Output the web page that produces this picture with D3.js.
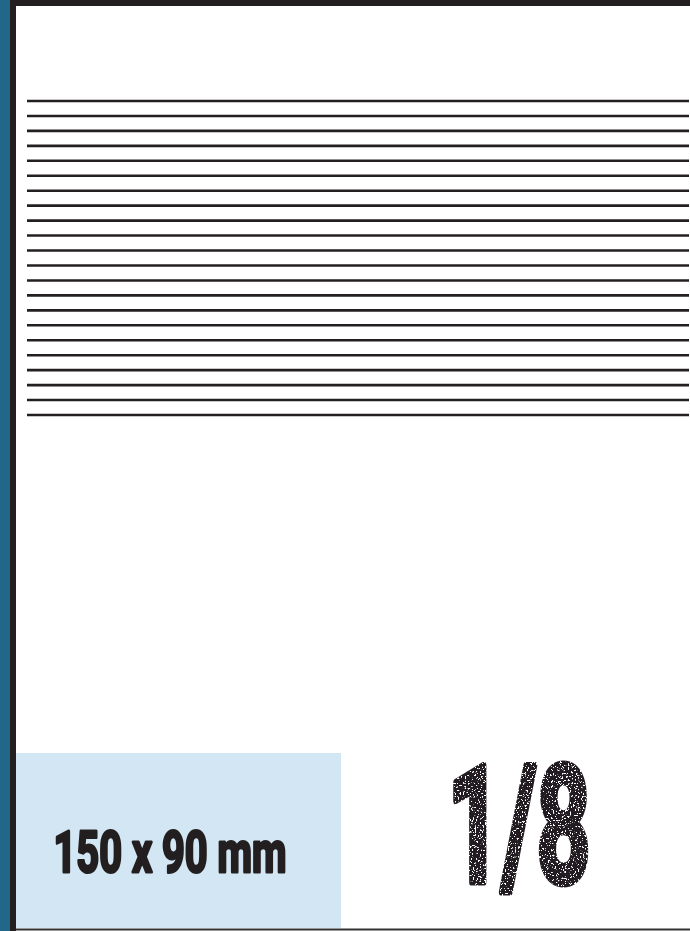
<!DOCTYPE html>
<html>
<head>
<meta charset="utf-8">
<script src="https://cdn.jsdelivr.net/npm/d3@7"></script>
<style>
  body { margin: 0; background: #fff; }
  svg { display: block; }
</style>
</head>
<body>
<svg id="page"></svg>
<script>
// -- data -- //
const ruleLines = d3.range(1, 23);   // 22 writing lines
const sizeLabel = ['150 x 90 mm'];
const fractionLabel = ['1/8'];

const width = 690, height = 931;

const svg = d3.select('#page')
    .attr('width', width)
    .attr('height', height);

// grunge filter for the big fraction
const defs = svg.append('defs');
const grunge = defs.append('filter')
    .attr('id', 'grunge')
    .attr('filterUnits', 'userSpaceOnUse')
    .attr('x', 410).attr('y', 730).attr('width', 230).attr('height', 190);
grunge.append('feTurbulence')
    .attr('type', 'fractalNoise')
    .attr('baseFrequency', '0.6')
    .attr('numOctaves', '3')
    .attr('seed', '11')
    .attr('result', 'noise');
grunge.append('feColorMatrix')
    .attr('in', 'noise')
    .attr('type', 'matrix')
    .attr('values', '0 0 0 0 0  0 0 0 0 0  0 0 0 0 0  0 0 0 -16 10.6')
    .attr('result', 'mask');
grunge.append('feComposite')
    .attr('in', 'SourceGraphic')
    .attr('in2', 'mask')
    .attr('operator', 'in');

// -- frame -- //
svg.append('rect')
    .attr('x', 0).attr('y', 0)
    .attr('width', 10).attr('height', height)
    .style('fill', '#226789');
svg.append('rect')
    .attr('x', 10).attr('y', 0)
    .attr('width', 6).attr('height', height)
    .style('fill', '#231f20');
svg.append('rect')
    .attr('x', 10).attr('y', 0)
    .attr('width', width - 10).attr('height', 6)
    .style('fill', '#231f20');

// -- ruled lines -- //
const yScale = d3.scaleLinear()
    .domain([1, 22])
    .range([101, 415]);

svg.selectAll('.rule')
    .data(ruleLines)
    .enter().append('line')
    .attr('class', 'rule')
    .attr('x1', 27)
    .attr('x2', 689)
    .attr('y1', d => yScale(d))
    .attr('y2', d => yScale(d))
    .style('stroke', '#231f20')
    .style('stroke-width', 2.6);

// -- size box -- //
svg.append('rect')
    .attr('x', 16).attr('y', 753)
    .attr('width', 325).attr('height', 175)
    .style('fill', '#d2e7f3');

svg.selectAll('.size')
    .data(sizeLabel)
    .enter().append('text')
    .attr('class', 'size')
    .attr('x', 53.5)
    .attr('y', 871.5)
    .attr('textLength', 233)
    .attr('lengthAdjust', 'spacingAndGlyphs')
    .style('font-family', 'Roboto, "Liberation Sans", sans-serif')
    .style('font-weight', 700)
    .style('font-size', '58px')
    .style('fill', '#231f20')
    .style('stroke', '#231f20')
    .style('stroke-width', 3)
    .style('stroke-linejoin', 'round')
    .text(d => d);

const fracLayer = svg.append('g')
    .attr('filter', 'url(#grunge)');

fracLayer.selectAll('.fraction')
    .data(fractionLabel)
    .enter().append('text')
    .attr('class', 'fraction')
    .attr('x', 447.5)
    .attr('y', 881.5)
    .attr('textLength', 143)
    .attr('lengthAdjust', 'spacingAndGlyphs')
    .style('font-family', 'Roboto, "Liberation Sans", sans-serif')
    .style('font-weight', 700)
    .style('font-size', '164px')
    .style('fill', '#231f20')
    .style('stroke', '#231f20')
    .style('stroke-width', 7)
    .style('stroke-linejoin', 'round')
    .text(d => d);

// -- bottom rule -- //
svg.append('rect')
    .attr('x', 16).attr('y', 928.5)
    .attr('width', width - 16).attr('height', 2)
    .style('fill', '#333');
</script>
</body>
</html>
